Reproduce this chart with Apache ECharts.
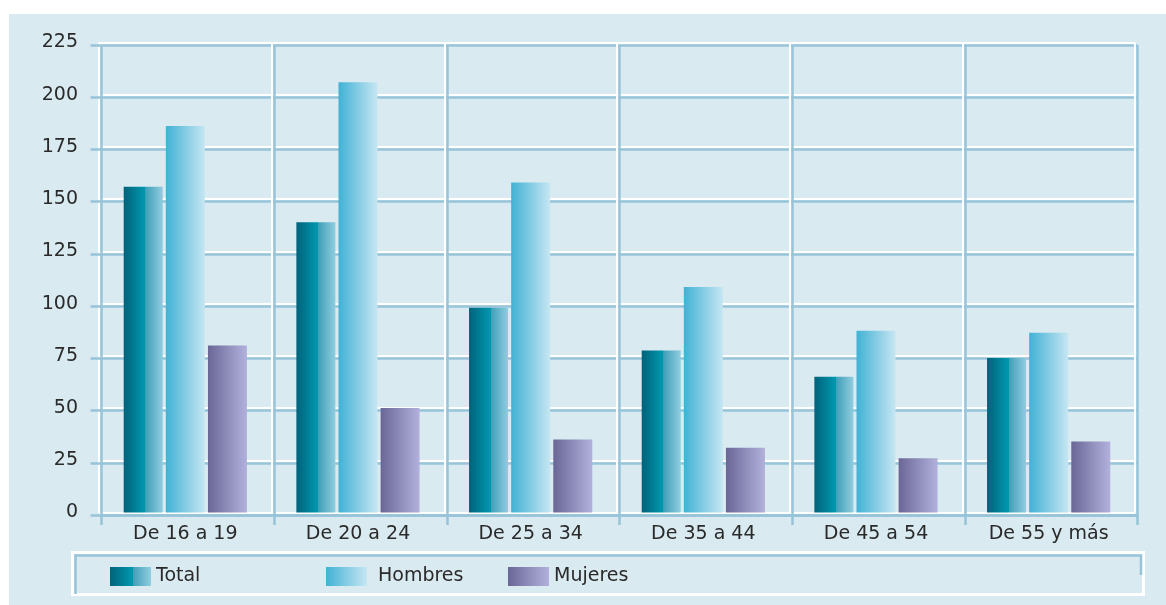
<!DOCTYPE html>
<html>
<head>
<meta charset="utf-8">
<script src="https://cdn.jsdelivr.net/npm/echarts@6/dist/echarts.min.js"></script>
<style>
  html, body { margin: 0; padding: 0; background: #ffffff; }
  #chart { width: 1166px; height: 605px; }
</style>
</head>
<body>
<div id="chart"></div>
<script>
// Age groups and values per series
const categories = ['De 16 a 19', 'De 20 a 24', 'De 25 a 34', 'De 35 a 44', 'De 45 a 54', 'De 55 y más'];
const totalValues = [156, 139, 98, 77.5, 65, 74];
const hombresValues = [185, 206, 158, 108, 87, 86];
const mujeresValues = [80, 50, 35, 31, 26, 34];
const yTicks = { min: 0, max: 225, interval: 25 };

const FONT = 'DejaVu Sans';
const TEXT = '#2a2a2a';
const PANEL = '#d9eaf1';
const SHADOW = '#97c4d9';

const grad = stops => new echarts.graphic.LinearGradient(0, 0, 1, 0,
  stops.map(([offset, color]) => ({ offset, color })));

const totalFill = grad([
  [0, '#00627a'], [0.5, '#0094ac'], [0.55, '#0097ae'],
  [0.56, '#3f9fb8'], [0.75, '#63b3c9'], [1, '#90cde0']
]);
const hombresFill = grad([[0, '#41b2d5'], [1, '#c6e6f2']]);
const mujeresFill = grad([[0, '#6a6797'], [1, '#b2b1dc']]);

const chart = echarts.init(document.getElementById('chart'), null, { renderer: 'canvas' });

const plot = { left: 99, top: 42.5, width: 1036, height: 470 };
const shade = { left: 101.5, top: 45, width: 1036, height: 470 };

const legendBase = {
  top: 567, padding: 0, itemWidth: 41, itemHeight: 19, icon: 'rect',
  textStyle: { fontFamily: FONT, fontSize: 19, color: TEXT, padding: [3, 0, 0, 0] }
};

chart.setOption({
  backgroundColor: '#ffffff',
  animation: false,
  graphic: [
    { type: 'rect', z: -10, shape: { x: 9, y: 14, width: 1157, height: 591 }, style: { fill: PANEL } },
    { type: 'rect', z: -9, shape: { x: 72.5, y: 552.5, width: 1071, height: 42 },
      style: { fill: 'none', stroke: '#ffffff', lineWidth: 3 } },
    { type: 'polyline', z: -8, shape: { points: [[75.5, 594], [75.5, 555.5], [1141, 555.5], [1141, 575]] },
      style: { fill: 'none', stroke: SHADOW, lineWidth: 2.5 } }
  ],
  grid: [
    Object.assign({ containLabel: false }, shade),
    Object.assign({ containLabel: false }, plot)
  ],
  xAxis: [
    {
      gridIndex: 0, type: 'category', data: categories,
      axisLine: { show: true, lineStyle: { color: SHADOW, width: 2.5 } },
      axisTick: { show: true, length: 10, lineStyle: { color: SHADOW, width: 2.5 } },
      axisLabel: { show: false },
      splitLine: { show: true, lineStyle: { color: SHADOW, width: 2.5 } }
    },
    {
      gridIndex: 1, type: 'category', data: categories,
      axisLine: { show: false }, axisTick: { show: false },
      axisLabel: { show: true, margin: 12, fontFamily: FONT, fontSize: 19, color: TEXT },
      splitLine: { show: true, lineStyle: { color: '#ffffff', width: 2 } }
    }
  ],
  yAxis: [
    {
      gridIndex: 0, type: 'value', min: yTicks.min, max: yTicks.max, interval: yTicks.interval,
      axisLine: { show: false },
      axisTick: { show: true, length: 11, lineStyle: { color: SHADOW, width: 2.5 } },
      axisLabel: { show: false },
      splitLine: { show: true, lineStyle: { color: SHADOW, width: 2.5 } }
    },
    {
      gridIndex: 1, type: 'value', min: yTicks.min, max: yTicks.max, interval: yTicks.interval,
      axisLine: { show: false }, axisTick: { show: false },
      axisLabel: { show: true, margin: 21, fontFamily: FONT, fontSize: 19, color: TEXT },
      splitLine: { show: true, lineStyle: { color: '#ffffff', width: 2 } }
    }
  ],
  legend: [
    Object.assign({}, legendBase, { left: 110, data: ['Total'] }),
    Object.assign({}, legendBase, { left: 326, data: ['Hombres'],
      textStyle: Object.assign({}, legendBase.textStyle, { padding: [3, 0, 0, 6] }) }),
    Object.assign({}, legendBase, { left: 508, data: ['Mujeres'] })
  ],
  series: [
    { name: 'Total', type: 'bar', xAxisIndex: 1, yAxisIndex: 1, data: totalValues,
      barWidth: 39, barGap: '8%', itemStyle: { color: totalFill } },
    { name: 'Hombres', type: 'bar', xAxisIndex: 1, yAxisIndex: 1, data: hombresValues,
      barWidth: 39, barGap: '8%', itemStyle: { color: hombresFill } },
    { name: 'Mujeres', type: 'bar', xAxisIndex: 1, yAxisIndex: 1, data: mujeresValues,
      barWidth: 39, barGap: '8%', itemStyle: { color: mujeresFill } }
  ]
});
</script>
</body>
</html>
